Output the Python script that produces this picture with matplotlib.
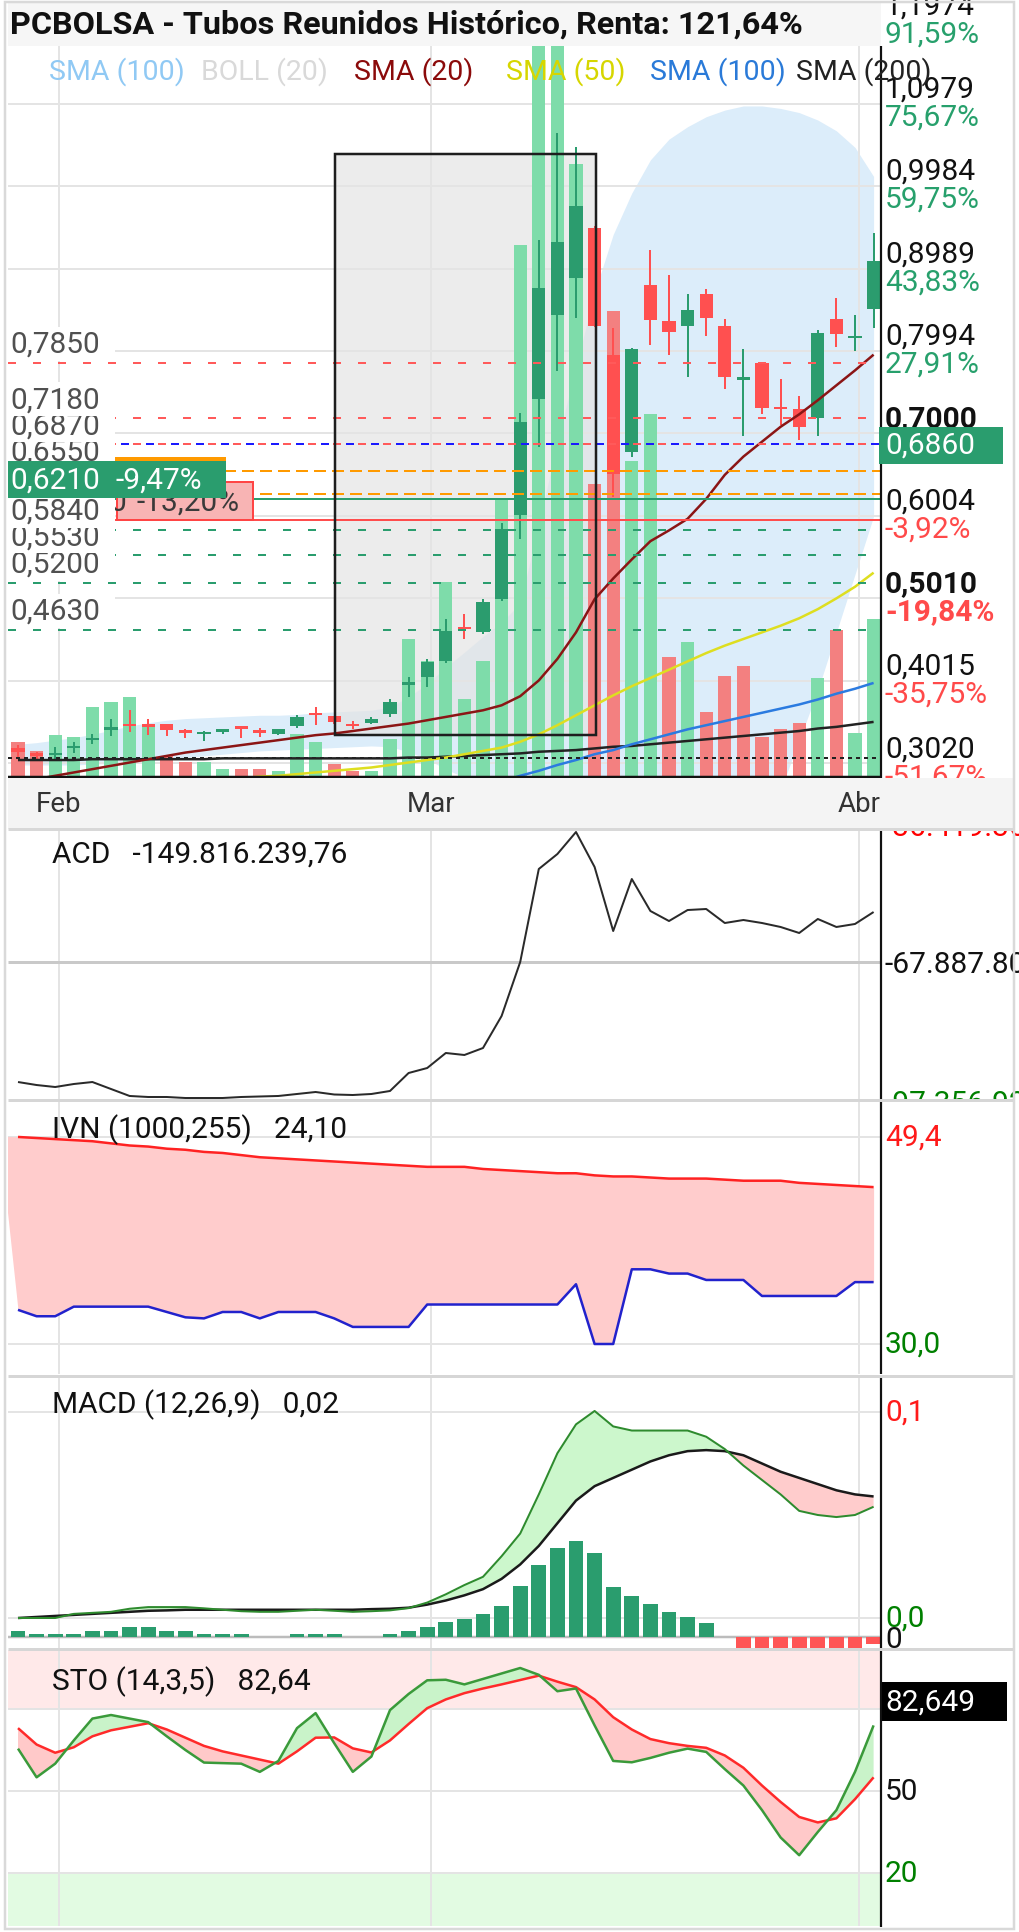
import matplotlib
matplotlib.use("Agg")
import matplotlib.pyplot as plt
import matplotlib.transforms as mtrans
from matplotlib.patches import Rectangle
from matplotlib.lines import Line2D
import numpy as np

plt.rcParams['font.family'] = ['Roboto', 'DejaVu Sans']
plt.rcParams['lines.scale_dashes'] = False
plt.rcParams['lines.solid_capstyle'] = 'butt'

# ------------------------------------------------------------------ data
opens = [0.320, 0.314, 0.312, 0.320, 0.330, 0.342, 0.350, 0.350, 0.350, 0.341,
         0.337, 0.340, 0.347, 0.341, 0.338, 0.347, 0.362, 0.359, 0.349, 0.351,
         0.362, 0.397, 0.406, 0.425, 0.467, 0.461, 0.500, 0.602, 0.741, 0.843,
         0.887, 0.948, 0.795, 0.677, 0.879, 0.836, 0.830, 0.868, 0.830, 0.765,
         0.785, 0.732, 0.729, 0.718, 0.838, 0.815, 0.850]
closes = [0.316, 0.311, 0.315, 0.322, 0.333, 0.346, 0.347, 0.346, 0.342, 0.339,
          0.339, 0.341, 0.343, 0.339, 0.343, 0.358, 0.360, 0.352, 0.347, 0.356,
          0.376, 0.399, 0.424, 0.462, 0.464, 0.497, 0.585, 0.714, 0.875, 0.931,
          0.974, 0.830, 0.651, 0.802, 0.837, 0.822, 0.849, 0.839, 0.768, 0.767,
          0.731, 0.729, 0.708, 0.821, 0.820, 0.818, 0.908]
highs = [0.324, 0.316, 0.322, 0.328, 0.338, 0.356, 0.366, 0.356, 0.350, 0.343,
         0.341, 0.343, 0.347, 0.345, 0.344, 0.360, 0.370, 0.359, 0.353, 0.358,
         0.380, 0.406, 0.428, 0.476, 0.482, 0.500, 0.592, 0.725, 0.933, 1.062,
         1.045, 0.950, 0.827, 0.803, 0.921, 0.891, 0.868, 0.874, 0.838, 0.802,
         0.786, 0.766, 0.745, 0.825, 0.863, 0.843, 0.942]
lows = [0.310, 0.307, 0.305, 0.314, 0.325, 0.335, 0.340, 0.336, 0.335, 0.332,
        0.329, 0.338, 0.333, 0.334, 0.336, 0.345, 0.348, 0.350, 0.343, 0.349,
        0.358, 0.382, 0.394, 0.423, 0.452, 0.458, 0.498, 0.573, 0.683, 0.775,
        0.839, 0.828, 0.623, 0.672, 0.807, 0.795, 0.768, 0.817, 0.754, 0.697,
        0.723, 0.710, 0.692, 0.697, 0.804, 0.800, 0.827]
volume = [0.34, 0.25, 0.41, 0.39, 0.69, 0.74, 0.79, 0.52, 0.20, 0.14,
          0.14, 0.07, 0.07, 0.07, 0.05, 0.42, 0.34, 0.12, 0.05, 0.05,
          0.37, 1.37, 1.15, 1.94, 0.77, 1.15, 2.76, 5.31, 8.5, 8.0,
          6.12, 2.92, 4.65, 3.15, 3.62, 1.19, 1.34, 0.64, 1.00, 1.10,
          0.39, 0.47, 0.53, 0.98, 1.46, 0.43, 1.57]
vol_up = [0, 0, 1, 1, 1, 1, 1, 1, 0, 0,
          1, 1, 0, 0, 1, 1, 1, 0, 0, 1,
          1, 1, 1, 1, 1, 1, 1, 1, 1, 1,
          1, 0, 0, 1, 1, 0, 1, 0, 0, 0,
          0, 0, 0, 1, 0, 1, 1]
bb_upper = [0.325, 0.327, 0.330, 0.333, 0.337, 0.342, 0.347, 0.351, 0.354, 0.356,
            0.357, 0.358, 0.359, 0.360, 0.360, 0.361, 0.363, 0.364, 0.365, 0.366,
            0.370, 0.382, 0.398, 0.418, 0.436, 0.455, 0.472, 0.495, 0.59, 0.69,
            0.78, 0.87, 0.94, 0.99, 1.03, 1.055, 1.07, 1.082, 1.09, 1.095,
            1.095, 1.092, 1.087, 1.078, 1.065, 1.045, 1.01]
bb_lower = [0.300, 0.300, 0.300, 0.300, 0.301, 0.302, 0.303, 0.305, 0.307, 0.309,
            0.311, 0.313, 0.315, 0.317, 0.318, 0.319, 0.320, 0.321, 0.322, 0.323,
            0.322, 0.316, 0.307, 0.295, 0.285, 0.270, 0.250, 0.22, 0.16, 0.10,
            0.05, 0.03, 0.02, 0.02, 0.03, 0.05, 0.08, 0.11, 0.14, 0.17,
            0.22, 0.27, 0.33, 0.39, 0.46, 0.53, 0.60]
sma20 = [0.280, 0.283, 0.287, 0.291, 0.295, 0.299, 0.303, 0.307, 0.311, 0.315,
         0.318, 0.321, 0.324, 0.327, 0.330, 0.333, 0.336, 0.338, 0.341, 0.344,
         0.347, 0.350, 0.354, 0.358, 0.362, 0.366, 0.372, 0.383, 0.402, 0.428,
         0.460, 0.500, 0.525, 0.548, 0.570, 0.583, 0.597, 0.621, 0.650, 0.672,
         0.690, 0.708, 0.723, 0.740, 0.758, 0.776, 0.795]
sma50 = [0.262, 0.264, 0.266, 0.268, 0.270, 0.272, 0.274, 0.276, 0.278, 0.280,
         0.281, 0.283, 0.284, 0.286, 0.287, 0.289, 0.291, 0.293, 0.295, 0.297,
         0.300, 0.303, 0.306, 0.309, 0.313, 0.317, 0.321, 0.328, 0.337, 0.348,
         0.360, 0.372, 0.384, 0.395, 0.405, 0.415, 0.425, 0.435, 0.444, 0.452,
         0.460, 0.468, 0.477, 0.488, 0.501, 0.515, 0.532]
sma100 = [0.250, 0.250, 0.251, 0.251, 0.252, 0.252, 0.253, 0.253, 0.254, 0.254,
          0.255, 0.255, 0.256, 0.256, 0.257, 0.257, 0.258, 0.258, 0.259, 0.259,
          0.260, 0.262, 0.264, 0.267, 0.270, 0.274, 0.280, 0.287, 0.293, 0.300,
          0.306, 0.313, 0.318, 0.325, 0.331, 0.337, 0.343, 0.348, 0.353, 0.358,
          0.363, 0.368, 0.373, 0.379, 0.386, 0.392, 0.399]
sma200 = [0.306, 0.306, 0.306, 0.306, 0.307, 0.307, 0.307, 0.307, 0.307, 0.307,
          0.307, 0.308, 0.308, 0.308, 0.308, 0.308, 0.308, 0.308, 0.308, 0.308,
          0.308, 0.309, 0.309, 0.310, 0.311, 0.312, 0.313, 0.314, 0.316, 0.317,
          0.318, 0.320, 0.322, 0.323, 0.325, 0.327, 0.329, 0.331, 0.333, 0.335,
          0.337, 0.339, 0.341, 0.344, 0.346, 0.349, 0.352]
acd = [-96.26, -96.97, -97.44, -96.73, -96.26, -97.91, -99.56, -99.80, -99.80, -100.04,
       -100.04, -100.04, -99.80, -99.68, -99.56, -99.09, -98.62, -99.21, -99.33, -99.09,
       -98.38, -94.13, -92.95, -89.40, -89.87, -88.22, -80.65, -67.89, -45.90, -42.36,
       -37.16, -45.43, -60.56, -48.27, -55.83, -58.20, -55.60, -55.36, -58.67, -57.96,
       -58.67, -59.61, -61.03, -57.72, -59.61, -58.90, -56.07]   # millions
# IVN series start one session before the first candle
ivn_upper = [49.5, 49.4, 49.3, 49.2, 49.1, 49.0, 48.8, 48.6, 48.5, 48.3, 48.2,
             48.0, 47.9, 47.7, 47.5, 47.4, 47.3, 47.2, 47.1, 47.0, 46.9,
             46.8, 46.7, 46.6, 46.6, 46.6, 46.4, 46.3, 46.2, 46.1, 46.0,
             46.0, 45.8, 45.7, 45.7, 45.6, 45.5, 45.5, 45.5, 45.4, 45.3,
             45.3, 45.3, 45.1, 45.0, 44.9, 44.8, 44.7]
ivn_lower = [49.4, 33.2, 32.6, 32.6, 33.5, 33.5, 33.5, 33.5, 33.5, 33.0, 32.5,
             32.4, 33.0, 33.0, 32.4, 33.0, 33.0, 33.0, 32.4, 31.6, 31.6,
             31.6, 31.6, 33.7, 33.7, 33.7, 33.7, 33.7, 33.7, 33.7, 33.7,
             35.6, 30.0, 30.0, 37.0, 37.0, 36.6, 36.6, 36.0, 36.0, 36.0,
             34.5, 34.5, 34.5, 34.5, 34.5, 35.8, 35.8]
macd_line = [0.0, 0.0, 0.0, 0.002, 0.0025, 0.003, 0.0045, 0.0053, 0.0053, 0.0053,
             0.0047, 0.004, 0.0033, 0.003, 0.003, 0.0035, 0.004, 0.0035, 0.003, 0.0033,
             0.0037, 0.0048, 0.0075, 0.0115, 0.016, 0.020, 0.030, 0.041, 0.060, 0.080,
             0.094, 0.1005, 0.093, 0.091, 0.091, 0.091, 0.091, 0.088, 0.082, 0.074,
             0.067, 0.060, 0.052, 0.050, 0.049, 0.050, 0.054]
macd_signal = [0.0, 0.0005, 0.001, 0.0015, 0.002, 0.0025, 0.003, 0.0035, 0.0037, 0.004,
               0.004, 0.004, 0.004, 0.004, 0.004, 0.004, 0.004, 0.004, 0.004, 0.0043,
               0.0045, 0.005, 0.0065, 0.0085, 0.011, 0.014, 0.019, 0.026, 0.035, 0.046,
               0.057, 0.064, 0.068, 0.072, 0.076, 0.079, 0.081, 0.0815, 0.081, 0.079,
               0.075, 0.071, 0.068, 0.065, 0.062, 0.060, 0.059]
macd_hist = [0.0029, 0.0015, 0.0015, 0.0015, 0.0029, 0.0029, 0.0049, 0.0049, 0.0029, 0.0029,
             0.0015, 0.0015, 0.0015, 0.0, 0.0, 0.0015, 0.0015, 0.0015, 0.0, 0.0,
             0.0015, 0.0029, 0.0049, 0.0073, 0.0087, 0.0112, 0.015, 0.0248, 0.035, 0.0432,
             0.0466, 0.0408, 0.0243, 0.0199, 0.016, 0.0121, 0.0097, 0.0068, 0.0, -0.0053,
             -0.0053, -0.0053, -0.0053, -0.0053, -0.0053, -0.0053, -0.0034]
sto_k = [65.5, 55, 60, 68.5, 76.5, 77.8, 76.5, 75.2, 70, 65,
         60.4, 60.2, 60, 57, 61, 73, 78.5, 67.5, 57, 62.6,
         79.6, 85.5, 90.5, 90.7, 89, 91, 93, 95, 92.5, 86.5,
         87.5, 74, 61, 60.5, 62.1, 64, 65.5, 64.3, 58, 52,
         43, 33, 26.5, 35, 43, 57, 74]
sto_d = [73, 67, 64, 66, 70, 72.2, 73.5, 74.8, 72.5, 69.5,
         66.5, 64.5, 63, 61.5, 60, 64.5, 69.5, 69.6, 65.6, 64.1,
         68.5, 74.5, 80.3, 83.5, 85.8, 87.5, 89, 90.6, 92.2, 90,
         88, 83.5, 77, 72.5, 69, 67.5, 66.5, 65.8, 63, 58.5,
         52, 46, 40.5, 38.5, 40, 47, 55]

month_labels = ['Feb', 'Mar', 'Abr']
month_pos = [2.2, 22.2, 45.2]
price_ticks = [1.1974, 1.0979, 0.9984, 0.8989, 0.7994, 0.7000, 0.6004, 0.5010, 0.4015, 0.3020]
price_tick_labels = ['1,1974', '1,0979', '0,9984', '0,8989', '0,7994', '0,7000',
                     '0,6004', '0,5010', '0,4015', '0,3020']
pct_labels = ['91,59%', '75,67%', '59,75%', '43,83%', '27,91%', '',
              '-3,92%', '-19,84%', '-35,75%', '-51,67%']
bold_ticks = ['0,7000', '0,5010']
resist_levels = [0.7850, 0.7180, 0.6870]
support_levels = [0.5840, 0.5530, 0.5200, 0.4630]
orange_levels = [0.6550, 0.6275]
blue_level = 0.6870
green_level, green_label, green_pct = 0.6210, '0,6210', '-9,47%'
red_level, red_label, red_pct = 0.5950, '0,5950', '-13,20%'
black_level = 0.3090
last_price, last_label = 0.6860, '0,6860'
left_levels = [0.7850, 0.7180, 0.6870, 0.6550, 0.5840, 0.5530, 0.5200, 0.4630]
left_labels = ['0,7850', '0,7180', '0,6870', '0,6550', '0,5840', '0,5530', '0,5200', '0,4630']
box_days = (17.05, 31.1)
box_prices = (0.336, 1.037)

acd_mid, acd_label = -67.8878, '-67.887.809'
acd_top_label, acd_bot_label = '-36.419.367', '-97.356.925'
ivn_ticks = [49.4, 30.0]
macd_ticks = [0.1, 0.0]
sto_ticks = [80, 50, 20]
sto_last = 82.649

# ------------------------------------------------------------------ layout helpers
W, H = 1020, 1933
fig = plt.figure(figsize=(W / 100, H / 100), dpi=100)
fig.patch.set_facecolor('white')
PX = 0.72                     # points per pixel
FS = 21.5

def frect(x0, y0, x1, y1):
    return [x0 / W, 1 - y1 / H, (x1 - x0) / W, (y1 - y0) / H]

L, R = 8, 881
STEP, X0PX = 18.6, 18.0
XLIM = ((L - X0PX) / STEP, (R - X0PX) / STEP)
days = np.arange(len(closes))
GRID = '#e4e4e4'
GREEN_T = '#27a06c'
RED_T = '#ff4a4a'

def clean(ax):
    for s in ax.spines.values():
        s.set_visible(False)
    ax.set_xticks([])
    ax.set_yticks([])
    ax.set_xlim(*XLIM)

def vgrid(ax, z=0):
    for m in month_pos:
        ax.axvline(m, color=GRID, lw=2 * PX, zorder=z)

def fline(x0, y0, x1, y1, color, lw, z=9):
    fig.add_artist(Line2D([x0 / W, x1 / W], [1 - y0 / H, 1 - y1 / H], color=color,
                          lw=lw * PX, zorder=z, transform=fig.transFigure))

def label_axes(y0, y1, ylim):
    a = fig.add_axes(frect(R, y0, 1020, y1), zorder=11)
    a.set_xlim(0, 1)
    a.set_ylim(*ylim)
    a.axis('off')
    return a

LX = (885 - R) / (1020 - R)

# ------------------------------------------------------------------ main price panel
PPU, PREF, YREF = 829.0, 0.7994, 352.0
def price_at(px):
    return PREF - (px - YREF) / PPU

rect_main = frect(L, 47, R, 777)
ax_bg = fig.add_axes(rect_main, zorder=1)
ax_vol = fig.add_axes(rect_main, zorder=2)
ax_p = fig.add_axes(rect_main, zorder=3)
for a in (ax_bg, ax_vol, ax_p):
    clean(a)
ax_vol.patch.set_visible(False)
ax_p.patch.set_visible(False)
ax_bg.set_ylim(price_at(777), price_at(47))
ax_p.set_ylim(price_at(777), price_at(47))
ax_vol.set_ylim(0, (777 - 47) / 100.0)

ax_bg.fill_between(days, bb_lower, bb_upper, color='#dcedfa', lw=0, zorder=1)
ax_bg.add_patch(Rectangle((box_days[0], box_prices[0]), box_days[1] - box_days[0],
                          box_prices[1] - box_prices[0], facecolor='#e4e4e4',
                          alpha=0.7, lw=0, zorder=2))
for p in price_ticks:
    ax_bg.axhline(p, color=GRID, lw=2 * PX, zorder=3)
vgrid(ax_bg, 3)

vcol = ['#7edcaa' if u else '#f38080' for u in vol_up]
ax_vol.bar(days, volume, width=0.7, color=vcol, lw=0)

o = np.array(opens); c = np.array(closes)
up = c >= o
ccol = np.where(up, '#2b9c6e', '#ff5050')
ax_p.vlines(days, lows, highs, colors=ccol, lw=2 * PX, zorder=3)
ax_p.bar(days, np.maximum(np.abs(c - o), 0.003), bottom=np.minimum(o, c), width=0.7,
         color=ccol, lw=0, zorder=4)

ax_p.plot(days, sma200, color='#222222', lw=2.5 * PX, zorder=5)
ax_p.plot(days, sma100, color='#2b7be0', lw=2.5 * PX, zorder=5)
ax_p.plot(days, sma50, color='#dede20', lw=2.5 * PX, zorder=5)
ax_p.plot(days, sma20, color='#8b1515', lw=2.5 * PX, zorder=5)

d_short = (0, (8 * PX, 17 * PX))
for p in resist_levels:
    ax_p.axhline(p, color='#ff5a5a', lw=2 * PX, ls=d_short, zorder=6)
ax_p.axhline(blue_level, color='#1a1aff', lw=2 * PX, ls=(12 * PX, (8 * PX, 17 * PX)), zorder=6)
for p in orange_levels:
    ax_p.axhline(p, color='#ff9a00', lw=2 * PX, ls=(0, (12 * PX, 6 * PX)), zorder=6)
for p in support_levels:
    ax_p.axhline(p, color='#2a9d6e', lw=2 * PX, ls=d_short, zorder=6)
ax_p.axhline(green_level, color='#2a9d6e', lw=2 * PX, zorder=6)
ax_p.axhline(red_level, color='#ff4d4d', lw=2 * PX, zorder=6)
ax_p.axhline(black_level, color='#222222', lw=2 * PX, ls=(0, (4 * PX, 4 * PX)), zorder=6)

ax_p.add_patch(Rectangle((box_days[0], box_prices[0]), box_days[1] - box_days[0],
                         box_prices[1] - box_prices[0], fill=False, edgecolor='#1e1e1e',
                         lw=2.5 * PX, zorder=7))

bt = mtrans.blended_transform_factory(ax_p.transAxes, ax_p.transData)
AW = float(R - L)
def ax_x(px):
    return (px - L) / AW

# red and orange label boxes (partly hidden)
rb = Rectangle((ax_x(117), red_level), ax_x(253) - ax_x(117), 38 / PPU, transform=bt,
               facecolor='#f8b4b4', edgecolor='#ff4545', lw=2 * PX, zorder=7.5)
ax_p.add_patch(rb)
t = ax_p.text(ax_x(127), red_level + 19 / PPU, red_label, transform=bt, ha='right',
              va='center', fontsize=FS, color='#3a3a3a', zorder=7.6)
t.set_clip_path(rb)
ax_p.text(ax_x(137), red_level + 19 / PPU, red_pct, transform=bt, ha='left',
          va='center', fontsize=FS, color='#3a3a3a', zorder=7.6)
ax_p.add_patch(Rectangle((0, orange_levels[1]), ax_x(226), 37 / PPU, transform=bt,
                         facecolor='#ff9a00', lw=0, zorder=7.4))

# left level labels with white backgrounds
for k, (p, lab) in enumerate(sorted(zip(left_levels, left_labels))):
    z = 8 + k * 0.01
    ax_p.add_patch(Rectangle((0, p + 2 / PPU), ax_x(115), 34 / PPU, transform=bt,
                             facecolor='white', lw=0, zorder=z))
    ax_p.text(ax_x(10), p + 19 / PPU, lab, transform=bt, ha='left', va='center',
              fontsize=FS, color='#505050', zorder=z + 0.005)

# green current-level box
ax_p.add_patch(Rectangle((0, green_level + 1 / PPU), ax_x(226), 37 / PPU, transform=bt,
                         facecolor='#2a9d6e', lw=0, zorder=9))
ax_p.text(ax_x(10), green_level + 19 / PPU, green_label, transform=bt, ha='left',
          va='center', fontsize=FS, color='white', zorder=9.1)
ax_p.text(ax_x(116), green_level + 19 / PPU, green_pct, transform=bt, ha='left',
          va='center', fontsize=FS, color='white', zorder=9.1)

# right price labels
ax_rl = label_axes(0, 779, (price_at(779), price_at(0)))
for p, lab, pct in zip(price_ticks, price_tick_labels, pct_labels):
    fw = 'bold' if lab in bold_ticks else 'normal'
    ax_rl.text(LX, p + 15 / PPU, lab, fontsize=FS, color='#111111', va='center',
               fontweight=fw, clip_on=True)
    if pct:
        ax_rl.text(LX, p - 13 / PPU, pct, fontsize=FS, va='center', clip_on=True,
                   color=RED_T if pct.startswith('-') else GREEN_T, fontweight=fw)
ax_rl.add_patch(Rectangle(((879 - R) / 139, last_price - 18.5 / PPU), (1003 - 879) / 139,
                          37 / PPU, facecolor='#2a9d6e', lw=0, clip_on=False, zorder=3))
ax_rl.text(LX, last_price, last_label, fontsize=FS, color='white', va='center', zorder=4)

# ------------------------------------------------------------------ title / legend / frame
fig.add_artist(Rectangle((L / W, 1 - 47 / H), (R - L) / W, 43 / H, transform=fig.transFigure,
                         facecolor='#f6f6f6', lw=0, zorder=10))
fig.text(10 / W, 1 - 25 / H, 'PCBOLSA - Tubos Reunidos Histórico, Renta: 121,64%',
         fontsize=23.3, fontweight='bold', color='#111111', va='center', zorder=12)
legend_items = [('SMA (100)', '#90c9f4'), ('BOLL (20)', '#d9d9d9'), ('SMA (20)', '#8b0a0a'),
                ('SMA (50)', '#d6d600'), ('SMA (100)', '#2a7ad8'), ('SMA (200)', '#222222')]
legend_x = [49, 201, 354, 506, 650, 796]
for (txt, col), lx in zip(legend_items, legend_x):
    fig.text(lx / W, 1 - 72 / H, txt, fontsize=20.5, color=col, va='center', zorder=12)

# date band
fig.add_artist(Rectangle((L / W, 1 - 830 / H), (1014 - L) / W, 51 / H, transform=fig.transFigure,
                         facecolor='#f4f4f4', lw=0, zorder=10))
fline(L, 830, 1014, 830, '#d8d8d8', 3, z=10)
dt = mtrans.blended_transform_factory(ax_bg.transData, fig.transFigure)
for m, lab in zip(month_pos, month_labels):
    fig.text(m, 1 - 805 / H, lab, transform=dt, ha='center', va='center', fontsize=20,
             color='#333333', zorder=12)

# bottom line of main chart and right axis lines
fline(L, 778, R, 778, '#111111', 2.5, z=9)
for y0, y1 in [(47, 779), (832, 1100), (1102, 1375), (1378, 1649), (1651, 1928)]:
    fline(R, y0, R, y1, '#111111', 2.2, z=9)
for yy in [1101, 1376.5, 1650]:
    fline(L, yy, 1014, yy, '#d6d6d6', 3, z=9)
fig.add_artist(Rectangle((5 / W, 1 - 1930 / H), 1009 / W, 1927 / H, transform=fig.transFigure,
                         fill=False, edgecolor='#d9d9d9', lw=2.5 * PX, zorder=13))

# ------------------------------------------------------------------ ACD
def acd_at(px):
    return acd_mid + (963 - px) * 0.2364
ax_acd = fig.add_axes(frect(L, 832, R, 1100), zorder=1)
clean(ax_acd)
ax_acd.set_ylim(acd_at(1100), acd_at(832))
vgrid(ax_acd)
ax_acd.axhline(acd_mid, color='#c9c9c9', lw=3 * PX, zorder=1)
ax_acd.plot(days, acd, color='#2a2a2a', lw=2 * PX, zorder=3)
fig.text(52 / W, 1 - 855 / H, 'ACD   -149.816.239,76', fontsize=FS, color='#111111',
         va='center', zorder=12)
al = label_axes(832, 1100, ax_acd.get_ylim())
al.text(LX, acd_at(828), acd_top_label, fontsize=FS, color='#ff0000', va='center', clip_on=True)
al.text(LX, acd_at(965), acd_label, fontsize=FS, color='#111111', va='center', clip_on=True)
al.text(LX, acd_at(1104), acd_bot_label, fontsize=FS, color='#008000', va='center', clip_on=True)

# ------------------------------------------------------------------ IVN
def ivn_at(px):
    return 30.0 + (1345 - px) * 0.0937
ax_ivn = fig.add_axes(frect(L, 1102, R, 1375), zorder=1)
clean(ax_ivn)
ax_ivn.set_ylim(ivn_at(1375), ivn_at(1102))
vgrid(ax_ivn)
for v in ivn_ticks:
    ax_ivn.axhline(v, color=GRID, lw=2 * PX, zorder=0)
ivn_days = np.arange(-1, len(closes))
ax_ivn.fill_between(ivn_days, ivn_lower, ivn_upper, color='#ffcccc', lw=0, zorder=1)
ax_ivn.plot(ivn_days[1:], ivn_upper[1:], color='#ff2222', lw=2.5 * PX, zorder=3)
ax_ivn.plot(ivn_days[1:], ivn_lower[1:], color='#2222cc', lw=2.5 * PX, zorder=3)
fig.text(52 / W, 1 - 1130 / H, 'IVN (1000,255)   24,10', fontsize=FS, color='#111111',
         va='center', zorder=12)
il = label_axes(1102, 1375, ax_ivn.get_ylim())
il.text(LX, ivn_ticks[0], '49,4', fontsize=FS, color='#ff1a1a', va='center')
il.text(LX, ivn_ticks[1], '30,0', fontsize=FS, color='#008000', va='center')

# ------------------------------------------------------------------ MACD
def macd_at(px):
    return (1619 - px) / 2060.0
def hist_at(px):
    return (1638 - px) / 2060.0
rect_macd = frect(L, 1378, R, 1649)
ax_hist = fig.add_axes(rect_macd, zorder=1)
ax_macd = fig.add_axes(rect_macd, zorder=2)
for a in (ax_hist, ax_macd):
    clean(a)
ax_macd.patch.set_visible(False)
ax_macd.set_ylim(macd_at(1649), macd_at(1378))
ax_hist.set_ylim(hist_at(1649), hist_at(1378))
vgrid(ax_hist)
gt = mtrans.blended_transform_factory(ax_hist.transAxes, ax_macd.transData)
for v in macd_ticks:
    ax_hist.add_line(Line2D([0, 1], [v, v], transform=gt, color=GRID, lw=2 * PX, zorder=0))
ax_hist.axhline(0, color='#bcbcbc', lw=2.5 * PX, zorder=1)
hv = np.array(macd_hist)
ax_hist.bar(days, hv, width=0.8, color=np.where(hv >= 0, '#2a9d6e', '#ff5555'), lw=0, zorder=2)
ml = np.array(macd_line); sl = np.array(macd_signal)
ax_macd.fill_between(days, ml, sl, where=ml >= sl, interpolate=True, color='#ccf7cc', lw=0)
ax_macd.fill_between(days, ml, sl, where=ml < sl, interpolate=True, color='#ffcccc', lw=0)
ax_macd.plot(days, sl, color='#1a1a1a', lw=2.5 * PX, zorder=3)
ax_macd.plot(days, ml, color='#2e8b2e', lw=2 * PX, zorder=4)
fig.text(52 / W, 1 - 1405 / H, 'MACD (12,26,9)   0,02', fontsize=FS, color='#111111',
         va='center', zorder=12)
ml_ax = label_axes(1378, 1649, ax_macd.get_ylim())
ml_ax.text(LX, macd_at(1640), '0', fontsize=FS, color='#111111', va='center')
ml_ax.text(LX, macd_ticks[0], '0,1', fontsize=FS, color='#ff1a1a', va='center')
ml_ax.text(LX, macd_ticks[1], '0,0', fontsize=FS, color='#008000', va='center')

# ------------------------------------------------------------------ STO
def sto_at(px):
    return 80 + (1710 - px) / 2.7333
ax_sto = fig.add_axes(frect(L, 1651, R, 1927), zorder=1)
clean(ax_sto)
ylo, yhi = sto_at(1927), sto_at(1651)
ax_sto.set_ylim(ylo, yhi)
ax_sto.axhspan(sto_ticks[0], yhi, color='#ffe9e9', lw=0, zorder=0)
ax_sto.axhspan(ylo, sto_ticks[2], color='#e2fbe2', lw=0, zorder=0)
vgrid(ax_sto, 0.5)
for v in sto_ticks:
    ax_sto.axhline(v, color=GRID, lw=2 * PX, zorder=0.5)
k = np.array(sto_k); d = np.array(sto_d)
ax_sto.fill_between(days, k, d, where=k >= d, interpolate=True, color='#c9f3c9', lw=0, zorder=1)
ax_sto.fill_between(days, k, d, where=k < d, interpolate=True, color='#ffc9c9', lw=0, zorder=1)
ax_sto.plot(days, d, color='#ff2a2a', lw=2.5 * PX, zorder=3)
ax_sto.plot(days, k, color='#3a9a3a', lw=2.5 * PX, zorder=4)
fig.text(52 / W, 1 - 1682 / H, 'STO (14,3,5)   82,64', fontsize=FS, color='#111111',
         va='center', zorder=12)
sl_ax = label_axes(1651, 1927, ax_sto.get_ylim())
sl_ax.add_patch(Rectangle((0.005, sto_last - 19.5 / 2.7333), (1007 - 882) / 139, 39 / 2.7333,
                          facecolor='black', lw=0, clip_on=False))
sl_ax.text(LX, sto_last, '82,649', fontsize=FS, color='white', va='center')
sl_ax.text(LX, sto_ticks[1], '50', fontsize=FS, color='#111111', va='center')
sl_ax.text(LX, sto_ticks[2], '20', fontsize=FS, color='#008000', va='center')

fig.savefig('out.png', dpi=100, facecolor='white')
